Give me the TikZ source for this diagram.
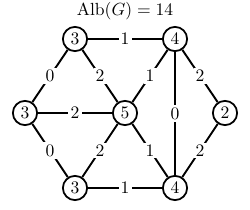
\documentclass[tikz,border=0pt]{standalone}
\begin{document}
\begin{tikzpicture}[
  vtx/.style={circle,draw,line width=1pt,minimum size=13.8pt,inner sep=0pt,fill=white},
  edge/.style={line width=1.1pt},
  lab/.style={fill=white,inner sep=1.2pt}
]
\useasboundingbox (0,0) rectangle (5,4.2);
\node (title) at (2.5,3.98) {$\mathrm{Alb}(G)=14$};
\node[vtx] (tl) at (1.5,3.42) {3};
\node[vtx] (tr) at (3.5,3.42) {4};
\node[vtx] (l) at (0.5,1.94) {3};
\node[vtx] (c) at (2.5,1.94) {5};
\node[vtx] (r) at (4.5,1.94) {2};
\node[vtx] (bl) at (1.5,0.44) {3};
\node[vtx] (br) at (3.5,0.44) {4};
\draw[edge] (tl) -- node[lab] {1} (tr);
\draw[edge] (tl) -- node[lab] {0} (l);
\draw[edge] (tl) -- node[lab] {2} (c);
\draw[edge] (tr) -- node[lab] {1} (c);
\draw[edge] (tr) -- node[lab] {0} (br);
\draw[edge] (tr) -- node[lab] {2} (r);
\draw[edge] (l) -- node[lab] {2} (c);
\draw[edge] (l) -- node[lab] {0} (bl);
\draw[edge] (c) -- node[lab] {2} (bl);
\draw[edge] (c) -- node[lab] {1} (br);
\draw[edge] (r) -- node[lab] {2} (br);
\draw[edge] (bl) -- node[lab] {1} (br);
\end{tikzpicture}
\end{document}
